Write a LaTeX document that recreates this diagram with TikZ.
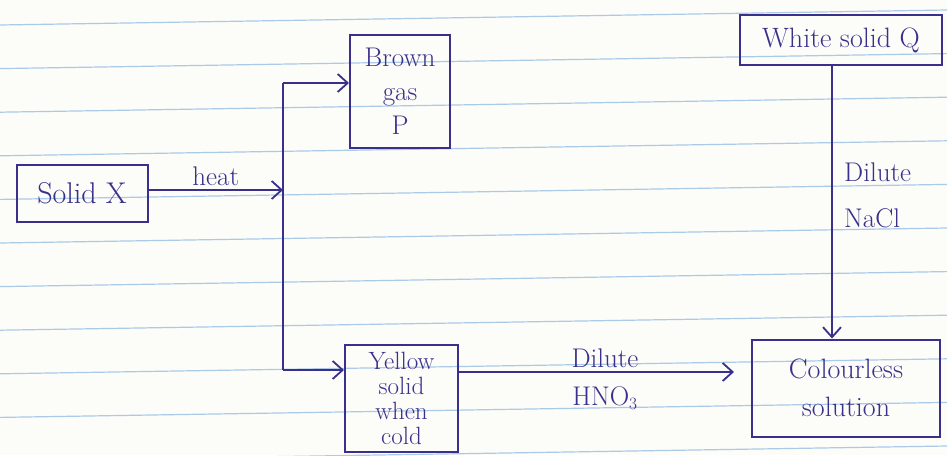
\documentclass[tikz,border=0pt]{standalone}
\usepackage{tikz}
\usetikzlibrary{arrows.meta}
\usepackage{amsmath}
\definecolor{ink}{RGB}{58,48,140}
\definecolor{rule}{RGB}{170,202,232}
\definecolor{paper}{RGB}{252,252,248}

\begin{document}
\begin{tikzpicture}[x=1pt,y=-1pt,
  box/.style={draw=ink,line width=2pt,text=ink,align=center,inner sep=2pt},
  wire/.style={draw=ink,line width=2pt},
  arr/.style={wire,-{Straight Barb[length=10pt,width=18pt,line width=1.8pt]}},
  lbl/.style={text=ink,font=\fontsize{27}{30}\selectfont,inner sep=1pt}]
\useasboundingbox (0,0) rectangle (947,455);
% paper and ruled lines:
\path[fill=paper] (0,0) rectangle (947,455);
\foreach \k in {0,...,10}
  \draw[rule,line width=1.2pt] (0,{25+43.6*\k}) -- (947,{10+43.6*\k});
% boxes:
\node[box,minimum width=131pt,minimum height=57pt,font=\fontsize{30}{32}\selectfont] (solidx) at (82,193) {Solid X};
\node[box,minimum width=100pt,minimum height=113pt,font=\fontsize{27}{34}\selectfont] (browngas) at (400,91) {Brown\\gas\\P};
\node[box,minimum width=113pt,minimum height=107pt,font=\fontsize{25}{25}\selectfont] (yellowsolid) at (401.5,398.5) {Yellow\\solid\\when\\cold};
\node[box,minimum width=202pt,minimum height=50pt,font=\fontsize{28}{30}\selectfont] (whitesolid) at (841,40) {White solid Q};
\node[box,minimum width=188pt,minimum height=97pt,font=\fontsize{28}{38}\selectfont] (colourless) at (846,388) {Colourless\\solution};
% branch points:
\coordinate (jheat) at (283,190);
\coordinate (jtop) at (283,83);
\coordinate (jbot) at (283,370);
% connectors:
\draw[arr] (solidx.east |- jheat) -- node[lbl,above=2pt] {heat} (jheat);
\draw[wire] (jtop) -- (jbot);
\draw[arr] (jtop) -- (jtop -| browngas.west);
\draw[arr] (jbot) -- (jbot -| yellowsolid.west);
\draw[arr,shorten >=17pt] (yellowsolid.east |- 0,372) -- node[lbl,above=2pt] {Dilute} node[lbl,below=13pt] {HNO$_3$} (colourless.west |- 0,372);
\draw[arr] (whitesolid.south -| 832,0) -- (colourless.north -| 832,0);
\node[lbl,align=left,font=\fontsize{27}{46}\selectfont,anchor=north west] (nacl) at (843,162) {Dilute\\NaCl};
\end{tikzpicture}
\end{document}
